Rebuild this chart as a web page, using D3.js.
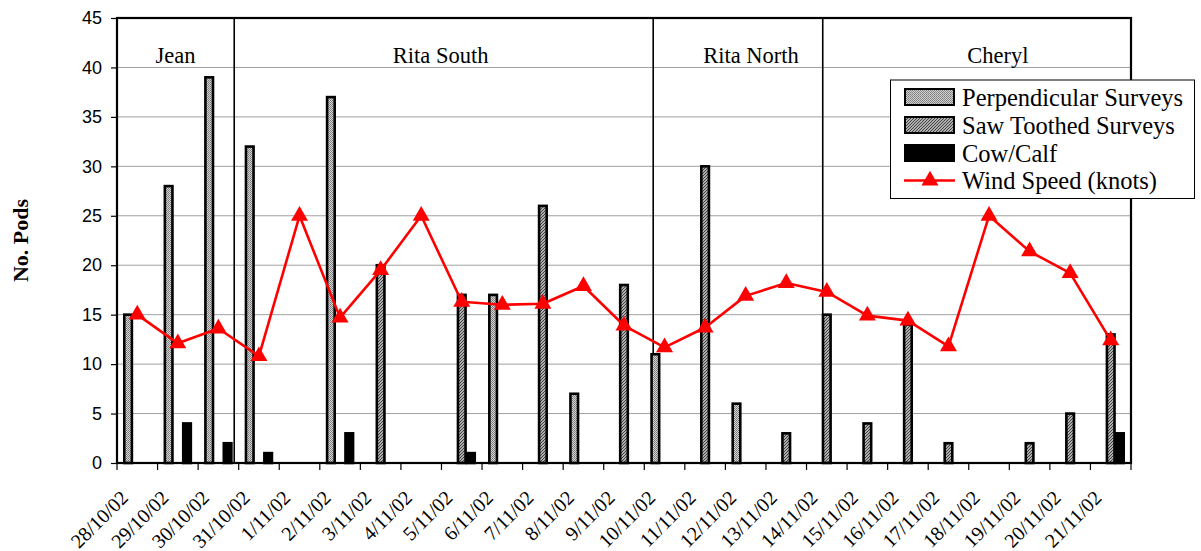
<!DOCTYPE html>
<html>
<head>
<meta charset="utf-8">
<script src="https://cdn.jsdelivr.net/npm/d3@7"></script>
<style>
  body { margin: 0; background: #fff; }
  svg { display: block; }
</style>
</head>
<body>
<svg id="chart" width="1201" height="551"></svg>
<script>
// Survey dates (category axis)
const dates = ["28/10/02","29/10/02","30/10/02","31/10/02","1/11/02","2/11/02","3/11/02",
  "4/11/02","5/11/02","6/11/02","7/11/02","8/11/02","9/11/02","10/11/02","11/11/02",
  "12/11/02","13/11/02","14/11/02","15/11/02","16/11/02","17/11/02","18/11/02",
  "19/11/02","20/11/02","21/11/02"];

// Number of pods per survey type (null = no survey that day)
const perpendicular = [15,28,39,32,null,37,null,null,null,17,null,7,null,11,null,6,
  null,null,null,null,null,null,null,null,null];
const sawToothed = [null,null,null,null,null,null,20,null,17,null,26,null,18,null,30,null,
  3,15,4,14,2,null,2,5,13];
const cowCalf = [null,4,2,1,null,3,null,null,1,null,null,null,null,null,null,null,
  null,null,null,null,null,null,null,null,3];

// Wind speed in knots
const windSpeed = [15,12.1,13.6,10.8,25,14.7,19.5,25,16.3,16,16.1,17.9,13.9,11.7,13.7,
  16.9,18.2,17.3,14.9,14.4,11.8,25,21.4,19.2,12.4];

const yTicks = [0,5,10,15,20,25,30,35,40,45];

// Survey areas; break and label positions are in category-index units
const regions = ["Jean","Rita South","Rita North","Cheryl"];
const regionLabelAt = [1.44, 7.98, 15.63, 21.72];
const regionBreaks = [2.89, 13.22, 17.40];

const seriesNames = ["Perpendicular Surveys","Saw Toothed Surveys","Cow/Calf","Wind Speed (knots)"];
const barSeries = [perpendicular, sawToothed, cowCalf];

const svg = d3.select("#chart");
const plot = { left: 117, right: 1131, top: 18, bottom: 463 };

// Fill patterns for the two survey types
const defs = svg.append("defs");
const dots = defs.append("pattern").attr("id","pat-perp")
  .attr("patternUnits","userSpaceOnUse").attr("width",2).attr("height",2);
dots.append("rect").attr("width",2).attr("height",2).attr("fill","#d4d4d4");
dots.append("rect").attr("width",1).attr("height",1).attr("fill","#777");
dots.append("rect").attr("x",1).attr("y",1).attr("width",1).attr("height",1).attr("fill","#8a8a8a");

const hatch = defs.append("pattern").attr("id","pat-saw")
  .attr("patternUnits","userSpaceOnUse").attr("width",3).attr("height",3);
hatch.append("rect").attr("width",3).attr("height",3).attr("fill","#e4e4e4");
hatch.append("path").attr("d","M-1,1 L1,-1 M0,3 L3,0 M2,4 L4,2")
  .attr("stroke","#3a3a3a").attr("stroke-width",1.2);

const fills = ["url(#pat-perp)","url(#pat-saw)","#000"];

// Scales
const x0 = d3.scaleBand().domain(dates).range([plot.left, plot.right]).padding(0);
const bw = x0.bandwidth();
const x1 = d3.scaleBand().domain([0,1,2]).range([bw*0.16, bw*0.84]).padding(0);
const y = d3.scaleLinear().domain([0,45]).range([plot.bottom, plot.top]);
const idx = d3.scaleLinear().domain([0, dates.length]).range([plot.left, plot.right]);

// Horizontal gridlines
svg.append("g").selectAll("line").data(yTicks.filter(t => t > 0 && t < 45)).join("line")
  .attr("x1", plot.left).attr("x2", plot.right)
  .attr("y1", d => y(d)).attr("y2", d => y(d))
  .attr("stroke", "#a0a0a0").attr("stroke-width", 1);

// Survey area separators
svg.append("g").selectAll("line").data(regionBreaks).join("line")
  .attr("x1", d => idx(d)).attr("x2", d => idx(d))
  .attr("y1", plot.top).attr("y2", plot.bottom)
  .attr("stroke", "#000").attr("stroke-width", 1.6);

// Area labels
svg.append("g").selectAll("text").data(regions).join("text")
  .attr("x", (d,i) => idx(regionLabelAt[i])).attr("y", 63)
  .attr("text-anchor","middle")
  .attr("font-family","'Liberation Serif','Times New Roman',serif")
  .attr("font-size", 22.5).attr("fill","#000")
  .text(d => d);

// Bars
const barG = svg.append("g");
barSeries.forEach((series, s) => {
  barG.append("g").selectAll("rect")
    .data(series.map((v,i) => ({ v, date: dates[i] })).filter(d => d.v != null))
    .join("rect")
    .attr("x", d => x0(d.date) + x1(s) + 0.8)
    .attr("width", x1.bandwidth() - 1.6)
    .attr("y", d => y(d.v))
    .attr("height", d => y(0) - y(d.v))
    .attr("fill", fills[s])
    .attr("stroke", "#000").attr("stroke-width", 2.6);
});

// Wind speed line with triangle markers
const cx = d => x0(d) + bw / 2;
const line = d3.line().x((d,i) => cx(dates[i])).y(d => y(d));
svg.append("path").datum(windSpeed)
  .attr("d", line).attr("fill","none")
  .attr("stroke","#ff0000").attr("stroke-width",2.6).attr("stroke-linejoin","round");

const tri = d3.symbol().type(d3.symbolTriangle).size(125);
svg.append("g").selectAll("path").data(windSpeed).join("path")
  .attr("transform", (d,i) => `translate(${cx(dates[i])},${y(d)})`)
  .attr("d", tri).attr("fill","#ff0000");

// Plot frame
svg.append("rect")
  .attr("x", plot.left).attr("y", plot.top)
  .attr("width", plot.right - plot.left).attr("height", plot.bottom - plot.top)
  .attr("fill","none").attr("stroke","#000").attr("stroke-width",2.2);

// Y axis
const yAxis = svg.append("g").attr("transform", `translate(${plot.left},0)`)
  .call(d3.axisLeft(y).tickValues(yTicks).tickSize(6).tickPadding(9));
yAxis.select(".domain").remove();
yAxis.selectAll("line").attr("stroke","#000").attr("stroke-width",1.2);
yAxis.selectAll("text")
  .attr("font-family","'Liberation Sans',Arial,sans-serif")
  .attr("font-size",18).attr("fill","#000");

svg.append("text")
  .attr("transform","translate(28,240.5) rotate(-90)")
  .attr("text-anchor","middle")
  .attr("font-family","'Liberation Serif','Times New Roman',serif")
  .attr("font-weight","bold").attr("font-size",22)
  .text("No. Pods");

// X axis: ticks on category boundaries, rotated date labels
const xG = svg.append("g");
xG.selectAll("line").data(d3.range(dates.length + 1)).join("line")
  .attr("x1", d => idx(d)).attr("x2", d => idx(d))
  .attr("y1", plot.bottom).attr("y2", plot.bottom + 7)
  .attr("stroke","#000").attr("stroke-width",1.2);
xG.selectAll("text").data(dates).join("text")
  .attr("transform", d => `translate(${cx(d) - 8},${plot.bottom + 36}) rotate(-45)`)
  .attr("text-anchor","end")
  .attr("font-family","'Liberation Serif','Times New Roman',serif")
  .attr("font-size",20).attr("fill","#000")
  .text(d => d);

// Legend
const lg = svg.append("g");
lg.append("rect").attr("x",890.5).attr("y",80).attr("width",304).attr("height",118.5)
  .attr("fill","#fff").attr("stroke","#000").attr("stroke-width",1);
const rowY = [97, 125, 153, 180.5];
seriesNames.forEach((name, i) => {
  if (i < 3) {
    lg.append("rect").attr("x",905).attr("y",rowY[i]-8).attr("width",49).attr("height",16)
      .attr("fill", fills[i]).attr("stroke","#000").attr("stroke-width",2);
  } else {
    lg.append("line").attr("x1",904).attr("x2",955).attr("y1",rowY[i]).attr("y2",rowY[i])
      .attr("stroke","#ff0000").attr("stroke-width",2.5);
    lg.append("path").attr("transform",`translate(930,${rowY[i]})`)
      .attr("d", tri).attr("fill","#ff0000");
  }
  lg.append("text").attr("x",962).attr("y",rowY[i]+8.5)
    .attr("font-family","'Liberation Serif','Times New Roman',serif")
    .attr("font-size",24.5).attr("fill","#000")
    .text(name);
});
</script>
</body>
</html>
